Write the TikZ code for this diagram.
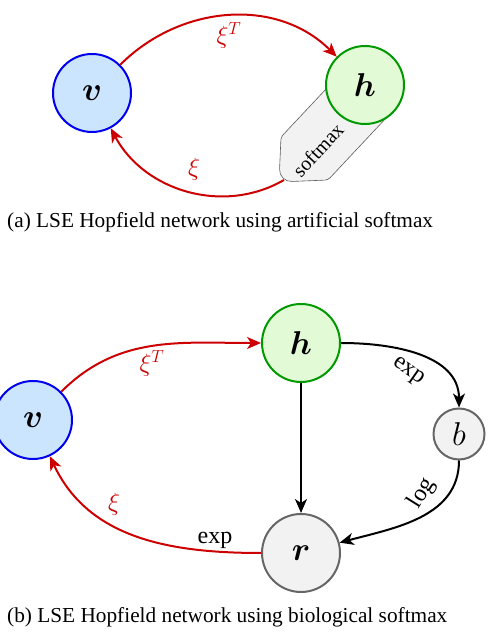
\RequirePackage{fix-cm}
\documentclass[tikz,border=0pt]{standalone}
\usepackage{bm}
\usepackage{fontspec}
\setmainfont{Liberation Serif}
\usetikzlibrary{arrows.meta}
\definecolor{vline}{HTML}{0000EE}
\definecolor{vfill}{HTML}{CCE5FF}
\definecolor{hline}{HTML}{009900}
\definecolor{hfill}{HTML}{E2FAD6}
\definecolor{gline}{HTML}{666666}
\definecolor{gfill}{HTML}{F2F2F2}
\definecolor{wred}{HTML}{CC0000}

\begin{document}
\begin{tikzpicture}[x=1pt, y=1pt,
        vneur/.style={circle, draw=vline, fill=vfill, line width=2pt, minimum size=78pt, inner sep=0pt, font=\fontsize{33}{33}\selectfont},
        hneur/.style={circle, draw=hline, fill=hfill, line width=2pt, minimum size=78pt, inner sep=0pt, font=\fontsize{33}{33}\selectfont},
        rneur/.style={circle, draw=gline, fill=gfill, line width=2pt, minimum size=78pt, inner sep=0pt, font=\fontsize{33}{33}\selectfont},
        bneur/.style={circle, draw=gline, fill=gfill, line width=2pt, minimum size=51pt, inner sep=0pt, font=\fontsize{33}{33}\selectfont},
        wlbl/.style={text=wred, font=\fontsize{25}{25}\selectfont, inner sep=1pt},
        lbl/.style={font=\fontsize{24}{24}\selectfont, inner sep=2pt},
        capt/.style={anchor=west, inner sep=0pt, font=\fontsize{21.3}{22}\selectfont},
        warrow/.style={-{Stealth[length=14pt, width=12pt, inset=4pt]}, line width=2pt, color=wred},
        barrow/.style={-{Stealth[length=14pt, width=12pt, inset=4pt]}, line width=2pt, color=black}
    ]
        \useasboundingbox (0,0) rectangle (487,636);

        % (a) artificial softmax
        \filldraw[fill=gfill, draw=gline!90!black, line width=0.6pt, rounded corners=3pt]
            (327,548) -- (281,499) [rounded corners=13pt] -- (279,454) [rounded corners=3pt] -- (328,456) -- (388,520);
        \coordinate (smx) at (284,456);
        \node[vneur] (va) at (92, 543) {$\bm{v}$};
        \node[hneur] (ha) at (365, 551) {$\bm{h}$};
        \node[lbl, font=\fontsize{20}{20}\selectfont, rotate=47] (sm) at (318, 486) {softmax};
        \draw[warrow] (va) to[out=45, in=135] (ha);
        \node[wlbl] (xta) at (229, 601) {$\xi^T$};
        \draw[warrow] (smx) to[out=210, in=-62] (va);
        \node[wlbl] (xa) at (194, 467) {$\xi$};
        \node[capt] (capa) at (7, 414) {(a) LSE Hopfield network using artificial softmax};

        % (b) biological softmax
        \node[vneur] (vb) at (33, 216) {$\bm{v}$};
        \node[hneur] (hb) at (301, 293) {$\bm{h}$};
        \node[bneur] (bb) at (459, 202) {$b$};
        \node[rneur] (rb) at (301, 83) {$\bm{r}$};
        \draw[warrow] (vb) to[out=45, in=180] (hb);
        \node[wlbl] (xtb) at (152, 273) {$\xi^T$};
        \draw[warrow] (rb) to[out=180, in=-65] (vb);
        \node[wlbl] (xb) at (114, 132) {$\xi$};
        \node[lbl] (eb) at (215, 96) {exp};
        \draw[barrow] (hb) -- (rb);
        \draw[barrow] (hb) to[out=0, in=90] (bb);
        \node[lbl, rotate=-35] (ehb) at (408, 264) {exp};
        \draw[barrow] (bb) to[out=-90, in=15] (rb);
        \node[lbl, rotate=58] (lgb) at (422, 143) {log};
        \node[capt] (capb) at (7, 19) {(b) LSE Hopfield network using biological softmax};
    \end{tikzpicture}
\end{document}
